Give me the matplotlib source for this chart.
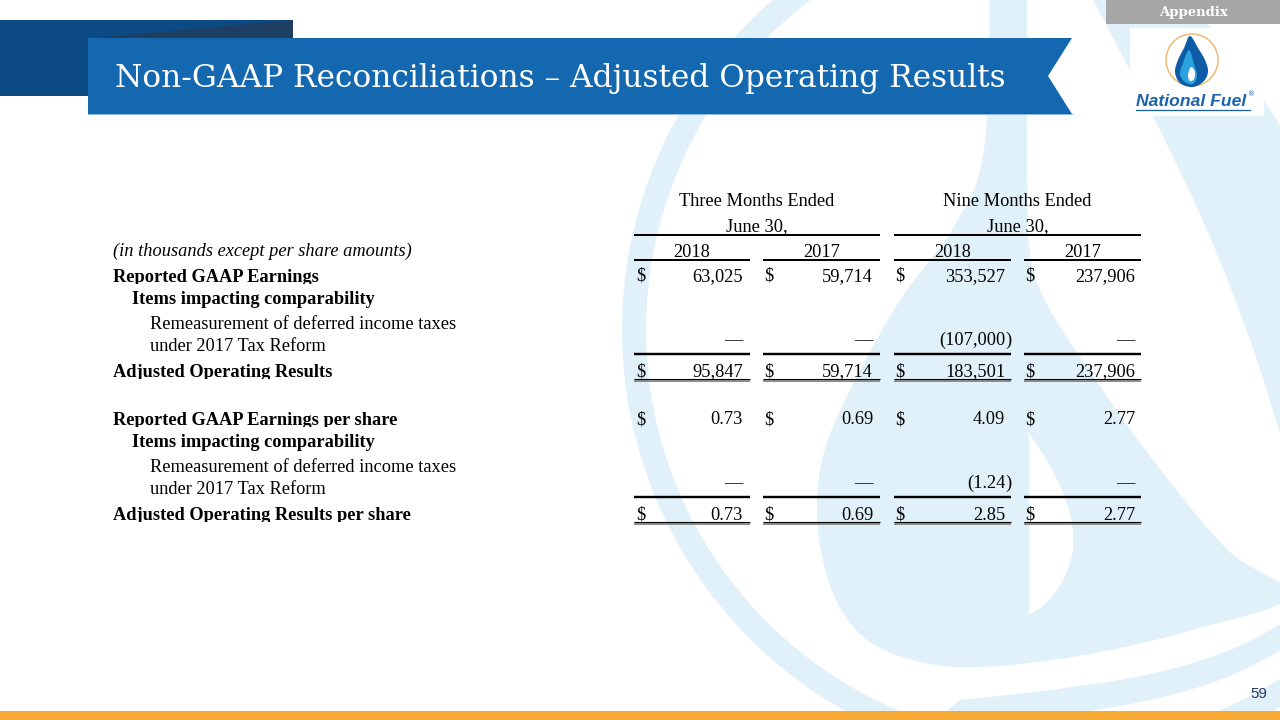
import matplotlib
matplotlib.use("Agg")
import matplotlib.pyplot as plt
from matplotlib.patches import Polygon, Rectangle, Circle
from matplotlib import font_manager
import numpy as np

# ---------------- data ----------------
group_headers = ["Three Months Ended", "Nine Months Ended"]
group_sub = ["June 30,", "June 30,"]
years = ["2018", "2017", "2018", "2017"]
units_note = "(in thousands except per share amounts)"

gaap_earnings = [63025, 59714, 353527, 237906]
remeasurement = [0, 0, -107000, 0]
adjusted_results = [95847, 59714, 183501, 237906]
gaap_eps = [0.73, 0.69, 4.09, 2.77]
remeasurement_eps = [0, 0, -1.24, 0]
adjusted_eps = [0.73, 0.69, 2.85, 2.77]

label_main = ["Reported GAAP Earnings", "Adjusted Operating Results",
              "Reported GAAP Earnings per share", "Adjusted Operating Results per share"]
label_items = "Items impacting comparability"
label_remeas = ["Remeasurement of deferred income taxes", "under 2017 Tax Reform"]

title = "Non-GAAP Reconciliations \u2013 Adjusted Operating Results"
page_no = "59"

# ---------------- figure ----------------
W, H = 1280, 720
fig = plt.figure(figsize=(12.8, 7.2), dpi=100)
ax = fig.add_axes([0, 0, 1, 1])
ax.set_xlim(0, W)
ax.set_ylim(H, 0)
ax.axis("off")
renderer = fig.canvas.get_renderer()
PT = 0.72  # px -> pt

avail = {f.name for f in font_manager.fontManager.ttflist}
TITLE_FONT = "DejaVu Serif Condensed" if "DejaVu Serif Condensed" in avail else "DejaVu Serif"


def fit_size(txt, width_px, **kw):
    t = ax.text(0, 0, txt, fontsize=10, **kw)
    w = t.get_window_extent(renderer).width
    t.remove()
    return 10.0 * width_px / w


def catmull(pts, n=14, closed=False):
    P = np.asarray(pts, float)
    if closed:
        P = np.vstack([P[-1], P, P[0], P[1]])
    else:
        P = np.vstack([P[0], P, P[-1]])
    out = []
    for i in range(1, len(P) - 2):
        p0, p1, p2, p3 = P[i - 1], P[i], P[i + 1], P[i + 2]
        for t in np.linspace(0, 1, n, endpoint=False):
            out.append(0.5 * ((2 * p1) + (-p0 + p2) * t + (2 * p0 - 5 * p1 + 4 * p2 - p3) * t * t
                              + (-p0 + 3 * p1 - 3 * p2 + p3) * t ** 3))
    out.append(P[-2])
    return np.array(out)


# ---------------- watermark ----------------
LB = "#E1F1F9"
ax.add_patch(Circle((1059, 330), 425, fill=False, ec=LB, lw=24 * PT, zorder=1))
# upper-right band
ax.add_patch(Polygon(np.vstack([
    catmull([(1088, -10), (1150, 110), (1207, 230), (1250, 340), (1282, 440)], 10),
    [(1295, 440), (1295, 120)],
    catmull([(1280, 125), (1240, 65), (1180, -10)], 10)]), closed=True, fc=LB, ec="none", zorder=1))
# inner drop body
body_curve = catmull([(1027, 180), (1036, 280), (1100, 386), (1167, 478), (1230, 552), (1290, 596),
                      (1200, 628), (1100, 652), (1000, 666), (930, 664), (870, 642), (835, 598),
                      (818, 530), (822, 460), (850, 390), (900, 300), (955, 225), (984, 150), (990, -10)], 10)
ax.add_patch(Polygon(np.vstack([[(1027, -10)], body_curve]), closed=True, fc=LB, ec="none", zorder=1))
# lower band
ax.add_patch(Polygon(np.vstack([
    catmull([(930, 725), (1050, 716), (1150, 700), (1230, 676), (1295, 642)], 10),
    catmull([(1295, 616), (1230, 650), (1150, 674), (1050, 690), (960, 700)], 10)]),
    closed=True, fc=LB, ec="none", zorder=1))
# white inner flame
ax.add_patch(Polygon(np.vstack([
    catmull([(1029, 433), (1052, 470), (1069, 510), (1073, 548), (1062, 582), (1044, 605), (1029, 614)], 10)]),
    closed=True, fc="white", ec="none", zorder=1.5))

# ---------------- header decorations ----------------
ax.add_patch(Rectangle((0, 20), 293, 76, fc="#0C4A84", ec="none", zorder=3))
ax.add_patch(Polygon([(94, 38), (293, 20), (293, 38)], closed=True, fc="#1E3E64", ec="none", zorder=3))
ax.add_patch(Polygon([(88, 38), (1072, 38), (1048, 76), (1072, 114), (88, 114)], closed=True,
                     fc="#1368B0", ec="none", zorder=4))
ax.plot([88, 1072], [114, 114], color="#8DB9E0", lw=1.0 * PT, zorder=4.1)

fs_title = fit_size(title, 895, family=TITLE_FONT)
ax.text(115, 87, title, fontsize=fs_title, family=TITLE_FONT, color="white",
        ha="left", va="baseline", zorder=5)

# Appendix tab
ax.add_patch(Rectangle((1106, 0), 174, 24, fc="#A6A6A6", ec="none", zorder=3))
fs_app = fit_size("Appendix", 69, family="DejaVu Serif", fontweight="bold")
ax.text(1193, 12.5, "Appendix", fontsize=fs_app, family="DejaVu Serif", fontweight="bold",
        color="white", ha="center", va="center", zorder=5)

# logo
ax.add_patch(Rectangle((1130, 28), 134, 88, fc="white", ec="none", zorder=2))
ax.add_patch(Circle((1192, 60), 26, fill=False, ec="#F2B466", lw=1.4 * PT, zorder=5))
drop = catmull([(1190, 36), (1198, 48), (1205, 60), (1208, 72), (1203, 82), (1192, 87),
                (1180, 83), (1175, 72), (1178, 60), (1184, 48)], 10, closed=True)
ax.add_patch(Polygon(drop, closed=True, fc="#0D5CA8", ec="none", zorder=5))
flame = catmull([(1189, 50), (1183, 63), (1180, 74), (1185, 82), (1193, 84), (1197, 76), (1194, 64)], 10,
                closed=True)
ax.add_patch(Polygon(flame, closed=True, fc="#2BA2DD", ec="none", zorder=5.1))
inner = catmull([(1191, 67), (1188, 75), (1190, 81), (1194, 79), (1195, 72)], 8, closed=True)
ax.add_patch(Polygon(inner, closed=True, fc="white", ec="none", zorder=5.2))
fs_nf = fit_size("National Fuel", 110, family="Liberation Sans", fontweight="bold", style="italic")
ax.text(1136, 106, "National Fuel", fontsize=fs_nf, family="Liberation Sans", fontweight="bold",
        style="italic", color="#1B63AC", ha="left", va="baseline", zorder=5)
ax.text(1248, 96, "\u00ae", fontsize=5, family="DejaVu Sans", color="#1B63AC", ha="left",
        va="baseline", zorder=5)
ax.plot([1136, 1250], [109.5, 109.5], color="#1B63AC", lw=1.3 * PT, zorder=5)

# bottom bar and page number
ax.add_patch(Rectangle((0, 711), W, 9, fc="#F7A935", ec="none", zorder=3))
ax.text(1267, 698, page_no, fontsize=15 * PT, family="Liberation Sans", color="#1F3864",
        ha="right", va="baseline", zorder=5)

# ---------------- table ----------------
SERIF = "Liberation Serif"
fs = fit_size(group_headers[0], 155, family=SERIF)
dollar_x = [636, 764, 895, 1025]
right_x = [743, 873, 1005, 1135]
segs = [(634, 750), (763, 880), (894, 1011), (1024, 1141)]
spans = [(634, 880), (894, 1141)]
span_c = [(a + b) / 2 for a, b in spans]
seg_c = [(a + b) / 2 for a, b in segs]


def txt(x, y, s, ha="left", weight="normal", style="normal", clip_y=None):
    t = ax.text(x, y, s, fontsize=fs, family=SERIF, fontweight=weight, style=style,
                color="black", ha=ha, va="baseline", zorder=6)
    if clip_y is not None:
        r = Rectangle((0, 0), W, clip_y, transform=ax.transData)
        t.set_clip_path(r)
        t.set_clip_on(True)
    return t


for c, h, s in zip(span_c, group_headers, group_sub):
    txt(c, 206, h, ha="center")
    txt(c, 231, s, ha="center")
for a, b in spans:
    ax.plot([a, b], [235, 235], color="black", lw=2.0 * PT, zorder=6, solid_capstyle="butt")
for c, y in zip(seg_c, years):
    txt(c, 257, y, ha="center")
for a, b in segs:
    ax.plot([a, b], [259.5, 259.5], color="black", lw=2.0 * PT, zorder=6, solid_capstyle="butt")
txt(113, 256, units_note, style="italic")


def fmt(v, kind):
    if v == 0:
        return "\u2014"
    s = f"{abs(v):,}" if kind == "int" else f"{abs(v):.2f}"
    return s


def value_row(vals, y, kind, dollar):
    for i, v in enumerate(vals):
        if dollar:
            txt(dollar_x[i], y, "$")
        s = fmt(v, kind)
        if v < 0:
            txt(right_x[i], y, "(" + s, ha="right")
            txt(right_x[i], y, ")")
        else:
            txt(right_x[i], y, s, ha="right")


def block(y0, vals1, vals2, vals3, kind, lab1, lab2):
    txt(113, y0 + 1, lab1, weight="bold", clip_y=y0 + 2.5)
    value_row(vals1, y0, kind, True)
    txt(132, y0 + 23, label_items, weight="bold")
    txt(150, y0 + 48, label_remeas[0])
    txt(150, y0 + 70, label_remeas[1])
    value_row(vals2, y0 + 64, kind, False)
    for a, b in segs:
        ax.plot([a, b], [y0 + 72.5, y0 + 72.5], color="black", lw=2.4 * PT, zorder=6,
                solid_capstyle="butt")
    txt(113, y0 + 96, lab2, weight="bold", clip_y=y0 + 97.5)
    value_row(vals3, y0 + 95.5, kind, True)
    for a, b in segs:
        ax.plot([a, b], [y0 + 97.6, y0 + 97.6], color="black", lw=1.1 * PT, zorder=6,
                solid_capstyle="butt")
        ax.plot([a, b], [y0 + 100.4, y0 + 100.4], color="#808080", lw=1.8 * PT, zorder=6,
                solid_capstyle="butt")


block(281, gaap_earnings, remeasurement, adjusted_results, "int", label_main[0], label_main[1])
block(424, gaap_eps, remeasurement_eps, adjusted_eps, "float", label_main[2], label_main[3])

fig.savefig("out.png", dpi=100, facecolor="white")
